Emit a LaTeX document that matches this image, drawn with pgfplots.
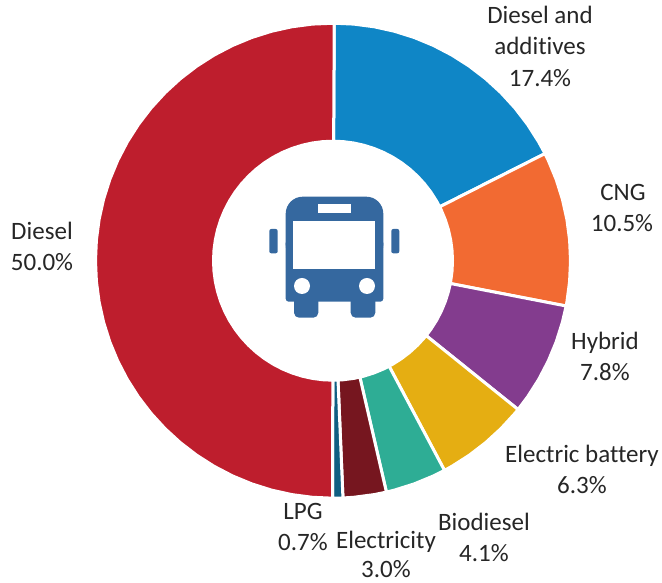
\documentclass[border=0pt]{standalone}
\usepackage{fontspec}
\setmainfont[Ligatures=NoCommon]{Carlito}
\usepackage{pgfplots}
\pgfplotsset{compat=1.18}

\definecolor{cAdd}{HTML}{0F86C6}
\definecolor{cCng}{HTML}{F26A32}
\definecolor{cHyb}{HTML}{833C8E}
\definecolor{cBat}{HTML}{E5AE12}
\definecolor{cBio}{HTML}{2EAD95}
\definecolor{cEle}{HTML}{76161F}
\definecolor{cLpg}{HTML}{0F5F82}
\definecolor{cDie}{HTML}{BE1E2D}
\definecolor{cBus}{HTML}{35689F}
\definecolor{cTxt}{HTML}{262626}

% one label line: x, baseline y (image pixels, y down), text
\newcommand{\lab}[3]{\node[anchor=base,inner sep=0pt,text=cTxt,font=\fontsize{25}{30}\selectfont] at (#1,#2) {#3};}

\begin{document}
\begin{tikzpicture}
\useasboundingbox (0,0) rectangle (662pt,583pt);
\begin{axis}[
    at={(0,0)}, anchor=south west,
    scale only axis,
    width=662pt, height=583pt,
    xmin=-333, xmax=329,
    ymin=-322.3, ymax=260.7,
    hide axis,
    clip=false,
    data cs=polar,
    every axis plot/.style={draw=white, line width=3pt, line join=round},
]
% Diesel and additives 17.4
\addplot[fill=cAdd] coordinates {
    (89.7,119.5) (89.7,237.5) (85,237.5) (80,237.5) (75,237.5) (70,237.5) (65,237.5) (60,237.5) (55,237.5) (50,237.5) (45,237.5) (40,237.5) (35,237.5) (30,237.5) (26.8,237.5)
    (26.8,119.5) (30,119.5) (35,119.5) (40,119.5) (45,119.5) (50,119.5) (55,119.5) (60,119.5) (65,119.5) (70,119.5) (75,119.5) (80,119.5) (85,119.5) (89.7,119.5)
} -- cycle;
% CNG 10.5
\addplot[fill=cCng] coordinates {
    (26.8,119.5) (26.8,237.5) (25,237.5) (20,237.5) (15,237.5) (10,237.5) (5,237.5) (0,237.5) (-5,237.5) (-10,237.5) (-11,237.5)
    (-11,119.5) (-10,119.5) (-5,119.5) (0,119.5) (5,119.5) (10,119.5) (15,119.5) (20,119.5) (25,119.5) (26.8,119.5)
} -- cycle;
% Hybrid 7.8
\addplot[fill=cHyb] coordinates {
    (-11,119.5) (-11,237.5) (-15,237.5) (-20,237.5) (-25,237.5) (-30,237.5) (-35,237.5) (-38.8,237.5)
    (-38.8,119.5) (-35,119.5) (-30,119.5) (-25,119.5) (-20,119.5) (-15,119.5) (-11,119.5)
} -- cycle;
% Electric battery 6.3
\addplot[fill=cBat] coordinates {
    (-38.8,119.5) (-38.8,237.5) (-40,237.5) (-45,237.5) (-50,237.5) (-55,237.5) (-60,237.5) (-62,237.5)
    (-62,119.5) (-60,119.5) (-55,119.5) (-50,119.5) (-45,119.5) (-40,119.5) (-38.8,119.5)
} -- cycle;
% Biodiesel 4.1
\addplot[fill=cBio] coordinates {
    (-62,119.5) (-62,237.5) (-65,237.5) (-70,237.5) (-75,237.5) (-77,237.5)
    (-77,119.5) (-75,119.5) (-70,119.5) (-65,119.5) (-62,119.5)
} -- cycle;
% Electricity 3.0
\addplot[fill=cEle] coordinates {
    (-77,119.5) (-77,237.5) (-80,237.5) (-85,237.5) (-87.6,237.5)
    (-87.6,119.5) (-85,119.5) (-80,119.5) (-77,119.5)
} -- cycle;
% LPG 0.7
\addplot[fill=cLpg] coordinates {
    (-87.6,119.5) (-87.6,237.5) (-90.1,237.5)
    (-90.1,119.5) (-87.6,119.5)
} -- cycle;
% Diesel 50.0
\addplot[fill=cDie] coordinates {
    (-90.1,119.5) (-90.1,237.5) (-95,237.5) (-100,237.5) (-105,237.5) (-110,237.5) (-115,237.5) (-120,237.5) (-125,237.5) (-130,237.5) (-135,237.5)
    (-140,237.5) (-145,237.5) (-150,237.5) (-155,237.5) (-160,237.5) (-165,237.5) (-170,237.5) (-175,237.5) (-180,237.5) (-185,237.5) (-190,237.5)
    (-195,237.5) (-200,237.5) (-205,237.5) (-210,237.5) (-215,237.5) (-220,237.5) (-225,237.5) (-230,237.5) (-235,237.5) (-240,237.5) (-245,237.5)
    (-250,237.5) (-255,237.5) (-260,237.5) (-265,237.5) (-270.3,237.5)
    (-270.3,119.5) (-265,119.5) (-260,119.5) (-255,119.5) (-250,119.5) (-245,119.5) (-240,119.5) (-235,119.5) (-230,119.5) (-225,119.5) (-220,119.5)
    (-215,119.5) (-210,119.5) (-205,119.5) (-200,119.5) (-195,119.5) (-190,119.5) (-185,119.5) (-180,119.5) (-175,119.5) (-170,119.5) (-165,119.5)
    (-160,119.5) (-155,119.5) (-150,119.5) (-145,119.5) (-140,119.5) (-135,119.5) (-130,119.5) (-125,119.5) (-120,119.5) (-115,119.5) (-110,119.5)
    (-105,119.5) (-100,119.5) (-95,119.5) (-90.1,119.5)
} -- cycle;
\end{axis}

% image pixel coordinates from here on
\begin{scope}[x=1pt,y=-1pt,yshift=583pt]
% bus icon
\fill[cBus,rounded corners=17pt] (285.7,262) -- (285.7,196.7) -- (383.3,196.7) -- (383.3,262) -- cycle;
\fill[cBus,rounded corners=3pt] (285.7,240) rectangle (383.3,301.7);
\fill[cBus,rounded corners=5pt] (294,290) rectangle (318.3,317.7);
\fill[cBus,rounded corners=5pt] (350.7,290) rectangle (375.3,317.7);
\fill[white] (293.3,220.7) rectangle (375,269.3);
\fill[white] (318,204.3) rectangle (350.7,213.3);
\fill[white] (302,286) circle[radius=8];
\fill[white] (367,286) circle[radius=8];
\fill[cBus,rounded corners=2pt] (269.3,229) rectangle (277.7,253.3);
\fill[cBus,rounded corners=2pt] (391.3,229) rectangle (399.3,253.3);

% labels
\lab{540}{24}{Diesel and}
\lab{540}{55}{additives}
\lab{540}{86.5}{17.4\%}
\lab{623}{201}{CNG}
\lab{622}{232}{10.5\%}
\lab{605}{350}{Hybrid}
\lab{605}{381}{7.8\%}
\lab{582}{463}{Electric battery}
\lab{582}{494}{6.3\%}
\lab{484}{531}{Biodiesel}
\lab{484}{562}{4.1\%}
\lab{386}{549}{Electricity}
\lab{386}{578}{3.0\%}
\lab{303}{520}{LPG}
\lab{303}{551}{0.7\%}
\lab{42}{240}{Diesel}
\lab{42}{271}{50.0\%}
\end{scope}
\end{tikzpicture}
\end{document}
